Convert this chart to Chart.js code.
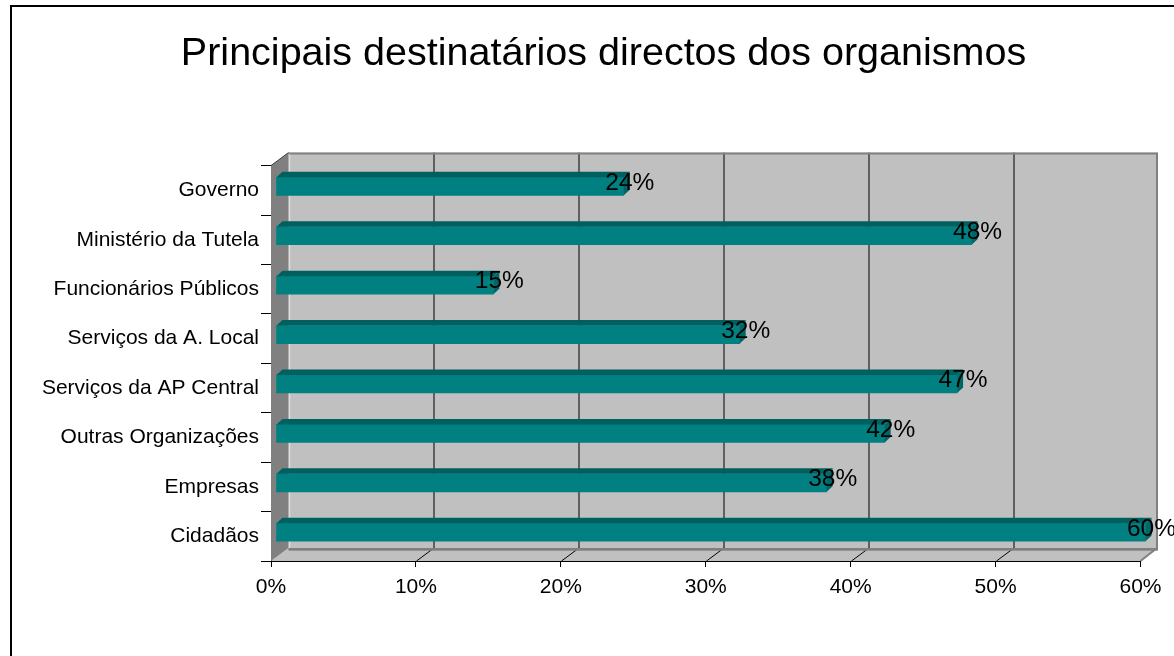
<!DOCTYPE html>
<html><head><meta charset="utf-8">
<script src="https://cdn.jsdelivr.net/npm/chart.js@4.4.0/dist/chart.umd.min.js"></script>
<style>html,body{margin:0;padding:0;background:#fff;overflow:hidden}#wrap{position:absolute;left:0;top:0;width:1174px;height:656px}</style>
</head><body><div id="wrap"><canvas id="c" width="1174" height="656"></canvas></div>
<script>
const titleText = 'Principais destinatários directos dos organismos';
const categories = ['Governo','Ministério da Tutela','Funcionários Públicos','Serviços da A. Local','Serviços da AP Central','Outras Organizações','Empresas','Cidadãos'];
const values = [24,48,15,32,47,42,38,60];
const xTickValues = [0,10,20,30,40,50,60];

const DX = 17.5, DY = 13;   // wall depth
const BX = 5, BY = 4;       // bar plane shift
const FX = 6, FY = 5.5;     // bar depth

Chart.defaults.font.family = "'Liberation Sans', Arial, sans-serif";
Chart.defaults.color = '#000';

const threeD = {
  id: 'threeD',
  beforeDatasetsDraw(chart) {
    const {ctx, chartArea: a, scales: {x}} = chart;
    const L = a.left, R = a.right, T = a.top, B = a.bottom;
    ctx.save();
    // back wall
    ctx.fillStyle = '#c0c0c0';
    ctx.fillRect(L + DX, T - DY, R - L, B - T);
    // floor
    ctx.beginPath();
    ctx.moveTo(L, B); ctx.lineTo(R, B); ctx.lineTo(R + DX, B - DY); ctx.lineTo(L + DX, B - DY); ctx.closePath();
    ctx.fill();
    // gridlines on back wall + slanted ticks on floor
    ctx.strokeStyle = '#000'; ctx.lineWidth = 1;
    xTickValues.forEach(v => {
      if (v === xTickValues[0] || v === xTickValues[xTickValues.length - 1]) return;
      const px = Math.round(x.getPixelForValue(v)) + 0.5;
      ctx.beginPath();
      ctx.moveTo(px + DX, T - DY); ctx.lineTo(px + DX, B - DY);
      ctx.moveTo(px, B); ctx.lineTo(px + DX, B - DY);
      ctx.stroke();
    });
    // dark band at wall/floor junction
    ctx.fillStyle = '#808080';
    ctx.fillRect(L + DX, B - DY, R - L, 2.7);
    // back wall borders
    ctx.strokeStyle = '#808080'; ctx.lineWidth = 2;
    ctx.beginPath();
    ctx.moveTo(L + DX, T - DY + 1); ctx.lineTo(R + DX - 1, T - DY + 1); ctx.lineTo(R + DX - 1, B - DY);
    ctx.lineTo(R, B);
    ctx.stroke();
    ctx.strokeStyle = '#dcdcdc'; ctx.lineWidth = 1.5;
    ctx.beginPath(); ctx.moveTo(L + DX + 1, T - DY + 2); ctx.lineTo(L + DX + 1, B - DY); ctx.stroke();
    // side wall
    ctx.fillStyle = '#808080';
    ctx.beginPath();
    ctx.moveTo(L, T); ctx.lineTo(L + DX, T - DY); ctx.lineTo(L + DX, B - DY); ctx.lineTo(L, B); ctx.closePath();
    ctx.fill();
    ctx.strokeStyle = '#404040'; ctx.lineWidth = 1;
    ctx.beginPath(); ctx.moveTo(L, T); ctx.lineTo(L + DX, T - DY); ctx.stroke();
    ctx.restore();
    ctx.save();
    ctx.translate(BX, -BY);
  },
  afterDatasetsDraw(chart) {
    const ctx = chart.ctx;
    const meta = chart.getDatasetMeta(0);
    meta.data.forEach(bar => {
      const {x: xe, y, base, height} = bar.getProps(['x', 'y', 'base', 'height'], true);
      const top = y - height / 2, bot = y + height / 2;
      ctx.fillStyle = '#005f5f';
      ctx.beginPath();
      ctx.moveTo(base, top); ctx.lineTo(xe, top); ctx.lineTo(xe + FX, top - FY); ctx.lineTo(base + FX, top - FY); ctx.closePath();
      ctx.fill();
      ctx.fillStyle = '#006666';
      ctx.beginPath();
      ctx.moveTo(xe, top); ctx.lineTo(xe + FX, top - FY); ctx.lineTo(xe + FX, bot - FY); ctx.lineTo(xe, bot); ctx.closePath();
      ctx.fill();
    });
    ctx.restore();
    // data labels
    ctx.save();
    ctx.fillStyle = '#000';
    ctx.font = "24.5px 'Liberation Sans', Arial, sans-serif";
    ctx.textAlign = 'center'; ctx.textBaseline = 'middle';
    meta.data.forEach((bar, i) => {
      const {x: xe, y} = bar.getProps(['x', 'y'], true);
      ctx.fillText(values[i] + '%', xe + BX + FX, y - BY - 3.5);
    });
    ctx.restore();
  },
  afterDraw(chart) {
    const ctx = chart.ctx;
    ctx.save();
    ctx.strokeStyle = '#000'; ctx.lineWidth = 2;
    ctx.strokeRect(11, 6, 2000, 2000);
    ctx.restore();
  }
};

new Chart(document.getElementById('c'), {
  type: 'bar',
  data: {
    labels: categories,
    datasets: [{ data: values, xAxisID: 'x', yAxisID: 'y', backgroundColor: '#008080', borderWidth: 0, barThickness: 18, clip: false }]
  },
  options: {
    indexAxis: 'y',
    responsive: false,
    animation: false,
    devicePixelRatio: 1,
    layout: { padding: { left: 33, right: 0, top: 0, bottom: 0 } },
    plugins: {
      legend: { display: false },
      tooltip: { enabled: false },
      title: {
        display: true, text: titleText, color: '#000',
        font: { size: 39.5, weight: 'normal' },
        padding: { top: 30, bottom: 88.2 }
      }
    },
    scales: {
      x: {
        min: 0, max: 60,
        afterFit(s) { s.height = 95; },
        afterBuildTicks(s) { s.ticks = xTickValues.map(v => ({ value: v })); },
        ticks: { callback: v => v + '%', font: { size: 21 }, color: '#000', padding: 8, maxRotation: 0 },
        grid: { drawOnChartArea: false, drawTicks: true, tickLength: 6, color: '#000' },
        border: { display: true, color: '#000', width: 1 }
      },
      y: {
        afterFit(s) { s.width = 238; },
        ticks: { font: { size: 21 }, color: '#000', padding: 2 },
        grid: { drawOnChartArea: false, drawTicks: true, tickLength: 10, color: '#000', offset: true },
        border: { display: true, color: '#000', width: 1 }
      },
      yr: {
        type: 'category', labels: categories, axis: 'y', position: 'right', display: true,
        afterFit(s) { s.width = 33.5; },
        ticks: { display: false },
        grid: { display: false, drawTicks: false },
        border: { display: false }
      }
    }
  },
  plugins: [threeD]
});
</script></body></html>
